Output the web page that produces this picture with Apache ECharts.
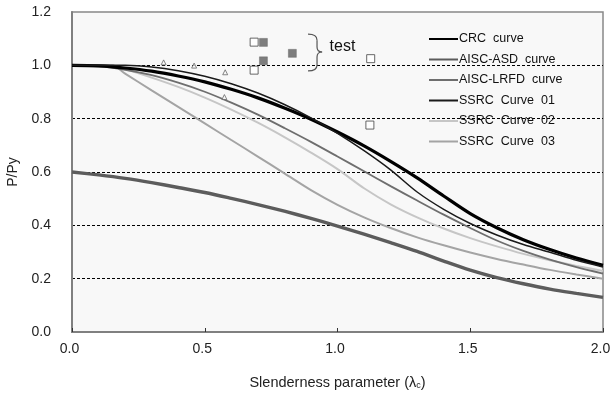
<!DOCTYPE html>
<html>
<head>
<meta charset="utf-8">
<script src="https://cdn.jsdelivr.net/npm/echarts@6/dist/echarts.min.js"></script>
<style>
  html, body { margin: 0; padding: 0; background: #fff; }
  #chart { width: 610px; height: 393px; }
</style>
</head>
<body>
<div id="chart"></div>
<script>
// Slenderness parameter values used by the column curves
const lambdaAll = [0, 0.1, 0.2, 0.3, 0.4, 0.5, 0.6, 0.7, 0.8, 0.9, 1.0,
                   1.1, 1.2, 1.3, 1.4, 1.5, 1.6, 1.7, 1.8, 1.9, 2.0];
const lambdaSSRC = [0, 0.1, 0.15, 0.2, 0.3, 0.4, 0.5, 0.6, 0.7, 0.8, 0.9, 1.0,
                    1.1, 1.2, 1.3, 1.4, 1.5, 1.6, 1.7, 1.8, 1.9, 2.0];

// P/Py along each curve
const crcCurve = [1.000, 0.998, 0.990, 0.978, 0.960, 0.938, 0.910, 0.878, 0.840, 0.798, 0.750,
                  0.698, 0.640, 0.578, 0.510, 0.444, 0.391, 0.346, 0.309, 0.277, 0.250];
const aiscAsdCurve = [0.600, 0.589, 0.576, 0.560, 0.542, 0.523, 0.501, 0.478, 0.453, 0.426, 0.397,
                      0.367, 0.335, 0.302, 0.266, 0.232, 0.204, 0.181, 0.161, 0.145, 0.130];
const aiscLrfdCurve = [1.000, 0.996, 0.983, 0.963, 0.935, 0.901, 0.860, 0.815, 0.765, 0.713, 0.658,
                       0.603, 0.547, 0.493, 0.440, 0.390, 0.343, 0.304, 0.271, 0.243, 0.219];
const ssrc01 = [1.000, 1.000, 1.000, 1.000, 0.994, 0.980, 0.959, 0.931, 0.896, 0.853, 0.803, 0.745,
                0.680, 0.608, 0.525, 0.460, 0.407, 0.364, 0.328, 0.299, 0.269, 0.244];
const ssrc02 = [1.000, 1.000, 1.000, 0.986, 0.954, 0.919, 0.879, 0.834, 0.785, 0.731, 0.673, 0.611,
                0.539, 0.479, 0.430, 0.388, 0.352, 0.321, 0.293, 0.269, 0.248, 0.229];
const ssrc03 = [1.000, 1.000, 1.000, 0.969, 0.906, 0.844, 0.782, 0.720, 0.658, 0.595, 0.532, 0.477,
                0.430, 0.390, 0.355, 0.325, 0.298, 0.274, 0.253, 0.233, 0.216, 0.200];

// Test results [lambda, P/Py]
const testOpen = [[0.686, 1.087], [0.686, 0.982], [1.125, 1.025], [1.122, 0.776]];
const testFilled = [[0.721, 1.086], [0.721, 1.017], [0.830, 1.045]];
const testTriangle = [[0.345, 1.011], [0.460, 0.999], [0.577, 0.974], [0.574, 0.881]];

const curveNames = ['CRC  curve', 'AISC-ASD  curve', 'AISC-LRFD  curve',
                    'SSRC  Curve  01', 'SSRC  Curve  02', 'SSRC  Curve  03'];

const FONT = '"Liberation Sans", Arial, sans-serif';

function zip(xs, ys) { return xs.map((x, i) => [x, ys[i]]); }

function curve(name, xs, ys, color, width, z) {
  return {
    name: name, type: 'line', data: zip(xs, ys),
    symbol: 'none', smooth: 0.3,
    lineStyle: { color: color, width: width },
    itemStyle: { color: color },
    z: z
  };
}

const chart = echarts.init(document.getElementById('chart'), null, { renderer: 'canvas' });

chart.setOption({
  animation: false,
  backgroundColor: '#ffffff',
  textStyle: { fontFamily: FONT },
  grid: {
    left: 72, right: 7, top: 12, bottom: 61,
    containLabel: false, outerBoundsMode: 'none',
    show: true, backgroundColor: '#f8f8f8',
    borderColor: '#888888', borderWidth: 1.5
  },
  legend: {
    data: curveNames,
    orient: 'vertical',
    left: 423, top: 27,
    itemWidth: 29, itemHeight: 14, itemGap: 6.5,
    itemStyle: { opacity: 0 },
    textStyle: { fontFamily: FONT, fontSize: 12.5, color: '#111', lineHeight: 14, padding: [0, 0, 0, -4] },
    selectedMode: false
  },
  xAxis: {
    type: 'value', min: 0, max: 2, interval: 0.5,
    name: 'Slenderness parameter (λ{sub|c})',
    nameLocation: 'middle', nameGap: 43,
    nameTextStyle: {
      fontFamily: FONT, fontSize: 14.5, color: '#222',
      rich: { sub: { fontFamily: FONT, fontSize: 9, color: '#222', verticalAlign: 'bottom', padding: [6, 0, 0, 0] } }
    },
    axisLine: { show: true, lineStyle: { color: '#808080', width: 2 } },
    axisTick: { show: true, inside: true, length: 4, lineStyle: { color: '#333', width: 1 } },
    axisLabel: {
      margin: 10, fontSize: 14, color: '#222', fontFamily: FONT,
      formatter: v => v.toFixed(1), padding: [0, 5, 0, 0]
    },
    splitLine: { show: false }
  },
  yAxis: {
    type: 'value', min: 0, max: 1.2, interval: 0.2,
    name: 'P/Py', nameLocation: 'middle', nameGap: 52, nameRotate: 90,
    nameTextStyle: { fontFamily: FONT, fontSize: 14, color: '#222' },
    axisLine: { show: true, lineStyle: { color: '#808080', width: 2 } },
    axisTick: { show: false },
    axisLabel: {
      margin: 21, fontSize: 14, color: '#222', fontFamily: FONT,
      formatter: v => v.toFixed(1)
    },
    splitLine: {
      show: true, showMinLine: false, showMaxLine: false,
      lineStyle: { color: '#000', width: 1, type: [3, 2] }
    }
  },
  series: [
    curve(curveNames[0], lambdaAll, crcCurve, '#000000', 3.2, 6),
    curve(curveNames[1], lambdaAll, aiscAsdCurve, '#5c5c5c', 3.4, 5),
    curve(curveNames[2], lambdaAll, aiscLrfdCurve, '#6e6e6e', 1.8, 4),
    curve(curveNames[3], lambdaSSRC, ssrc01, '#1a1a1a', 1.5, 7),
    curve(curveNames[4], lambdaSSRC, ssrc02, '#c6c6c6', 2, 3),
    curve(curveNames[5], lambdaSSRC, ssrc03, '#a4a4a4', 2, 3),
    {
      name: 'test-open', type: 'scatter', data: testOpen,
      symbol: 'rect', symbolSize: 8,
      itemStyle: { color: '#ffffff', borderColor: '#444', borderWidth: 1 }, z: 8
    },
    {
      name: 'test-filled', type: 'scatter', data: testFilled,
      symbol: 'rect', symbolSize: 8,
      itemStyle: { color: '#5e5e5e', borderColor: '#5e5e5e', borderWidth: 0.5 }, z: 8
    },
    {
      name: 'test-triangle', type: 'scatter', data: testTriangle,
      symbol: 'triangle', symbolSize: 5,
      itemStyle: { color: '#f8f8f8', borderColor: '#666', borderWidth: 1 }, z: 8
    }
  ]
});

// Brace grouping the test points, with its "test" label
function drawBrace() {
  const top = chart.convertToPixel({ gridIndex: 0 }, [0.889, 1.117]);
  const bot = chart.convertToPixel({ gridIndex: 0 }, [0.889, 0.979]);
  const tip = chart.convertToPixel({ gridIndex: 0 }, [0.942, 1.050]);
  const lbl = chart.convertToPixel({ gridIndex: 0 }, [0.970, 1.072]);
  const x0 = top[0], x1 = x0 + 9, x2 = tip[0];
  const yT = top[1], yB = bot[1], yM = tip[1];
  const stroke = { fill: null, stroke: '#555', lineWidth: 1.2 };
  const quad = (ax, ay, cx, cy, bx, by) => ({
    type: 'bezierCurve', z: 10,
    shape: { x1: ax, y1: ay, cpx1: cx, cpy1: cy, x2: bx, y2: by },
    style: stroke
  });
  const seg = (ax, ay, bx, by) => ({
    type: 'line', z: 10,
    shape: { x1: ax, y1: ay, x2: bx, y2: by },
    style: stroke
  });
  chart.setOption({
    graphic: [
      quad(x0, yT, x1, yT, x1, yT + 6),
      seg(x1, yT + 6, x1, yM - 5),
      quad(x1, yM - 5, x1, yM, x2, yM),
      quad(x2, yM, x1, yM, x1, yM + 5),
      seg(x1, yM + 5, x1, yB - 6),
      quad(x1, yB - 6, x1, yB, x0, yB),
      {
        type: 'text', z: 10,
        x: lbl[0], y: lbl[1],
        style: { text: 'test', fontFamily: FONT, fontSize: 16, fill: '#111', verticalAlign: 'middle', align: 'left' }
      }
    ]
  });
}
drawBrace();
</script>
</body>
</html>
